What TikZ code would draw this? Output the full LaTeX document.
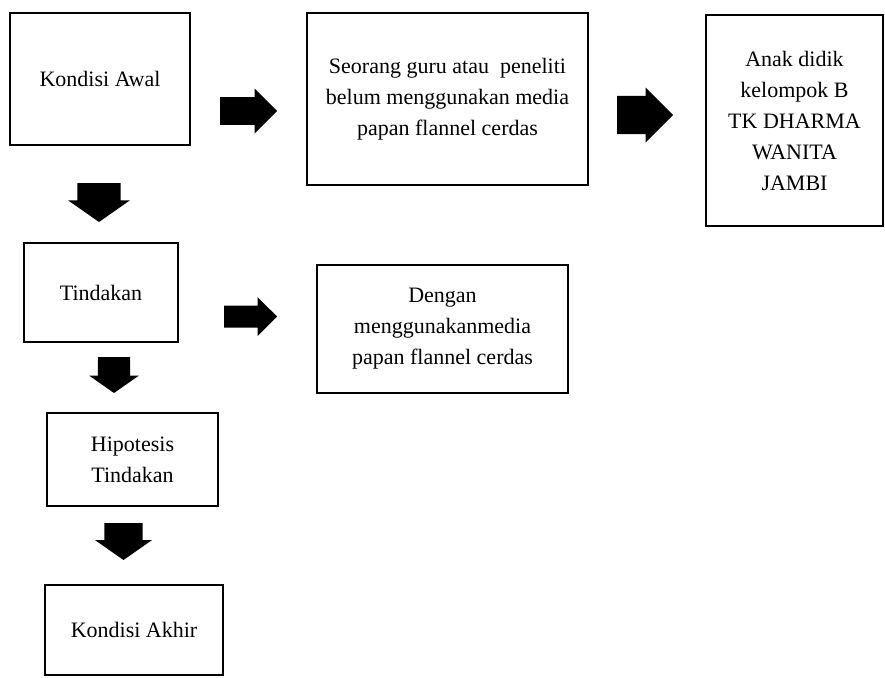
\documentclass[tikz,border=0pt]{standalone}
\usepackage{fontspec}
\setmainfont{Liberation Serif}
\usetikzlibrary{shapes.arrows}

\begin{document}
\begin{tikzpicture}[x=1pt, y=-1pt,
    box/.style={draw, line width=1.2pt, align=center, inner sep=0pt,
                font=\fontsize{22}{31}\selectfont},
    blk/.style={single arrow, fill=black, draw=none, outer sep=0pt, anchor=tail}]

  \useasboundingbox (0,0) rectangle (885,677);

  % boxes
  \node[box, minimum width=180, minimum height=132] (awal) at (100,79) {Kondisi Awal};
  \node[box, minimum width=281, minimum height=172] (guru) at (447.5,99)
    {Seorang guru atau~ peneliti\\belum menggunakan media\\papan flannel cerdas};
  \node[box, minimum width=177, minimum height=211] (anak) at (794.5,120.5)
    {Anak didik\\kelompok B\\TK DHARMA\\WANITA\\JAMBI};
  \node[box, minimum width=154, minimum height=99] (tindakan) at (101,292.5) {Tindakan};
  \node[box, minimum width=251, minimum height=128] (dengan) at (442.5,329)
    {Dengan\\menggunakanmedia\\papan flannel cerdas};
  \node[box, minimum width=171, minimum height=93] (hipotesis) at (132.5,459.5)
    {Hipotesis\\Tindakan};
  \node[box, minimum width=178, minimum height=90] (akhir) at (134,630) {Kondisi Akhir};

  % block arrows (tail point, length, shaft sep x/y, head width)
  \foreach \n/\x/\y/\len/\ix/\iy/\head/\rot/\tip in {%
    r1/220/111/57/0/11/45/0/90,
    r2/617/115/56/0/16/55/0/90,
    r3/224/316.5/53/0/9/39/0/90,
    d1/99/183/39/16/0/62/270/110,
    d2/114/357/36/13/0/50/270/110,
    d3/123.5/523/37/14.5/0/57/270/110}
  {
    \node[blk, shape border rotate=\rot, single arrow tip angle=\tip,
          minimum height=\len pt, minimum width=\head pt,
          inner xsep=\ix pt, inner ysep=\iy pt]
      (\n) at (\x,\y) {};
  }
\end{tikzpicture}
\end{document}
